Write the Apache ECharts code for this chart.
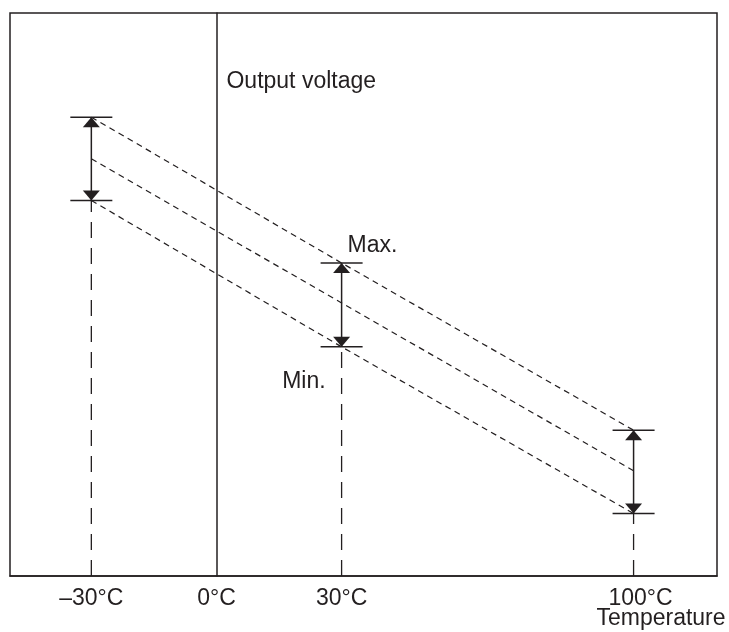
<!DOCTYPE html>
<html>
<head>
<meta charset="utf-8">
<script src="https://cdn.jsdelivr.net/npm/echarts@6/dist/echarts.min.js"></script>
<style>
  html, body { margin: 0; padding: 0; background: #ffffff; }
  #chart { width: 729px; height: 632px; }
</style>
</head>
<body>
<div id="chart"></div>
<script>
// ---- data ----
var temps = [-30, 30, 100];                 // temperature points (°C)
var maxV = [81.5, 55.6, 25.9];              // upper limit of output voltage (arb. units)
var typV = [74.1, 48.5, 18.7];              // typical output voltage
var minV = [66.7, 40.7, 11.1];              // lower limit of output voltage
var tickValues = [-30, 0, 30, 100];
var tickLabels = ['–30°C', '0°C', '30°C', '100°C'];
var annotationText = ['Max.', 'Min.'];
var xAxisName = 'Temperature';
var yAxisName = 'Output voltage';

// ---- styling ----
var INK = '#231f20';
var FONT = '"Liberation Sans", Arial, Helvetica, sans-serif';
var FS = 23;

function pairs(xs, ys) { return xs.map(function (x, i) { return [x, ys[i]]; }); }

var chart = echarts.init(document.getElementById('chart'), null, { renderer: 'canvas' });

var option = {
  animation: false,
  backgroundColor: '#ffffff',
  grid: {
    left: 10, right: 12, top: 13, bottom: 56,
    containLabel: false,
    outerBoundsMode: 'none',
    show: true, borderColor: INK, borderWidth: 1.5, backgroundColor: 'transparent'
  },
  xAxis: {
    type: 'value',
    min: -49.5, max: 120,
    name: xAxisName,
    nameLocation: 'end',
    nameGap: -56,
    nameMoveOverlap: false,
    nameTextStyle: { color: INK, fontSize: FS, fontFamily: FONT, align: 'center', verticalAlign: 'top', padding: [31, 0, 0, 0] },
    axisLine: { show: true, onZero: false, lineStyle: { color: INK, width: 1.5 } },
    axisTick: { show: false },
    splitLine: { show: false },
    axisLabel: {
      show: true,
      customValues: tickValues,
      margin: 11,
      color: INK, fontSize: FS, fontFamily: FONT,
      formatter: function (v) {
        var i = tickValues.indexOf(v);
        if (i < 0) return '';
        if (v === 100) return '{r|' + tickLabels[i] + '}';
        return tickLabels[i];
      },
      rich: { r: { color: INK, fontSize: FS, fontFamily: FONT, padding: [0, 0, 0, 14] } }
    }
  },
  yAxis: {
    type: 'value',
    min: 0, max: 100,
    name: yAxisName,
    nameLocation: 'end',
    nameGap: -69,
    nameTextStyle: { color: INK, fontSize: FS, fontFamily: FONT, align: 'left', verticalAlign: 'middle', padding: [0, 0, 0, 10] },
    axisLine: { show: true, onZero: true, lineStyle: { color: INK, width: 1.5 } },
    axisTick: { show: false },
    axisLabel: { show: false },
    splitLine: { show: false }
  },
  series: [
    // dashed diagonal lines
    { type: 'line', name: 'max', data: pairs(temps, maxV), symbol: 'none', silent: true,
      lineStyle: { color: INK, width: 1.2, type: [6, 4.5], opacity: 1 }, z: 2 },
    { type: 'line', name: 'typ', data: pairs(temps, typV), symbol: 'none', silent: true,
      lineStyle: { color: INK, width: 1.2, type: [6, 4.5], opacity: 1 }, z: 2 },
    { type: 'line', name: 'min', data: pairs(temps, minV), symbol: 'none', silent: true,
      lineStyle: { color: INK, width: 1.2, type: [6, 4.5], opacity: 1 }, z: 2 },
    // vertical range bars and drop lines
    {
      type: 'custom', silent: true, z: 3,
      data: temps.map(function (t, i) { return [t, minV[i], maxV[i]]; }),
      encode: { x: 0, y: [1, 2] },
      renderItem: function (params, api) {
        var t = api.value(0);
        var pMin = api.coord([t, api.value(1)]);
        var pMax = api.coord([t, api.value(2)]);
        var pBase = api.coord([t, 0]);
        return {
          type: 'group',
          children: [
            { type: 'line', shape: { x1: pMin[0], y1: pMin[1], x2: pMax[0], y2: pMax[1] },
              style: { stroke: INK, lineWidth: 1.5 } },
            { type: 'line', shape: { x1: pBase[0], y1: pBase[1], x2: pMin[0], y2: pMin[1] },
              style: { stroke: INK, lineWidth: 1.3, lineDash: [16, 10] } }
          ]
        };
      }
    },
    // caps
    { type: 'scatter', silent: true, z: 4, data: pairs(temps, maxV).concat(pairs(temps, minV)),
      symbol: 'rect', symbolSize: [42, 1.5], itemStyle: { color: INK, opacity: 1 } },
    // arrowheads
    { type: 'scatter', silent: true, z: 5, data: pairs(temps, maxV),
      symbol: 'triangle', symbolSize: [17, 10], symbolOffset: [0, 5], itemStyle: { color: INK, opacity: 1 } },
    { type: 'scatter', silent: true, z: 5, data: pairs(temps, minV),
      symbol: 'triangle', symbolSize: [17, 10], symbolRotate: 180, symbolOffset: [0, -5], itemStyle: { color: INK, opacity: 1 } },
    // annotations
    {
      type: 'scatter', silent: true, z: 6, symbolSize: 1, itemStyle: { color: 'rgba(0,0,0,0)', opacity: 1 },
      label: { show: true, position: 'inside', color: INK, fontSize: FS, fontFamily: FONT, verticalAlign: 'middle', opacity: 1 },
      data: [
        { value: [temps[1], maxV[1]], label: { formatter: annotationText[0], align: 'left', offset: [6, -17] } },
        { value: [temps[1], minV[1]], label: { formatter: annotationText[1], align: 'right', offset: [-16, 35] } }
      ]
    }
  ]
};

chart.setOption(option);
</script>
</body>
</html>
